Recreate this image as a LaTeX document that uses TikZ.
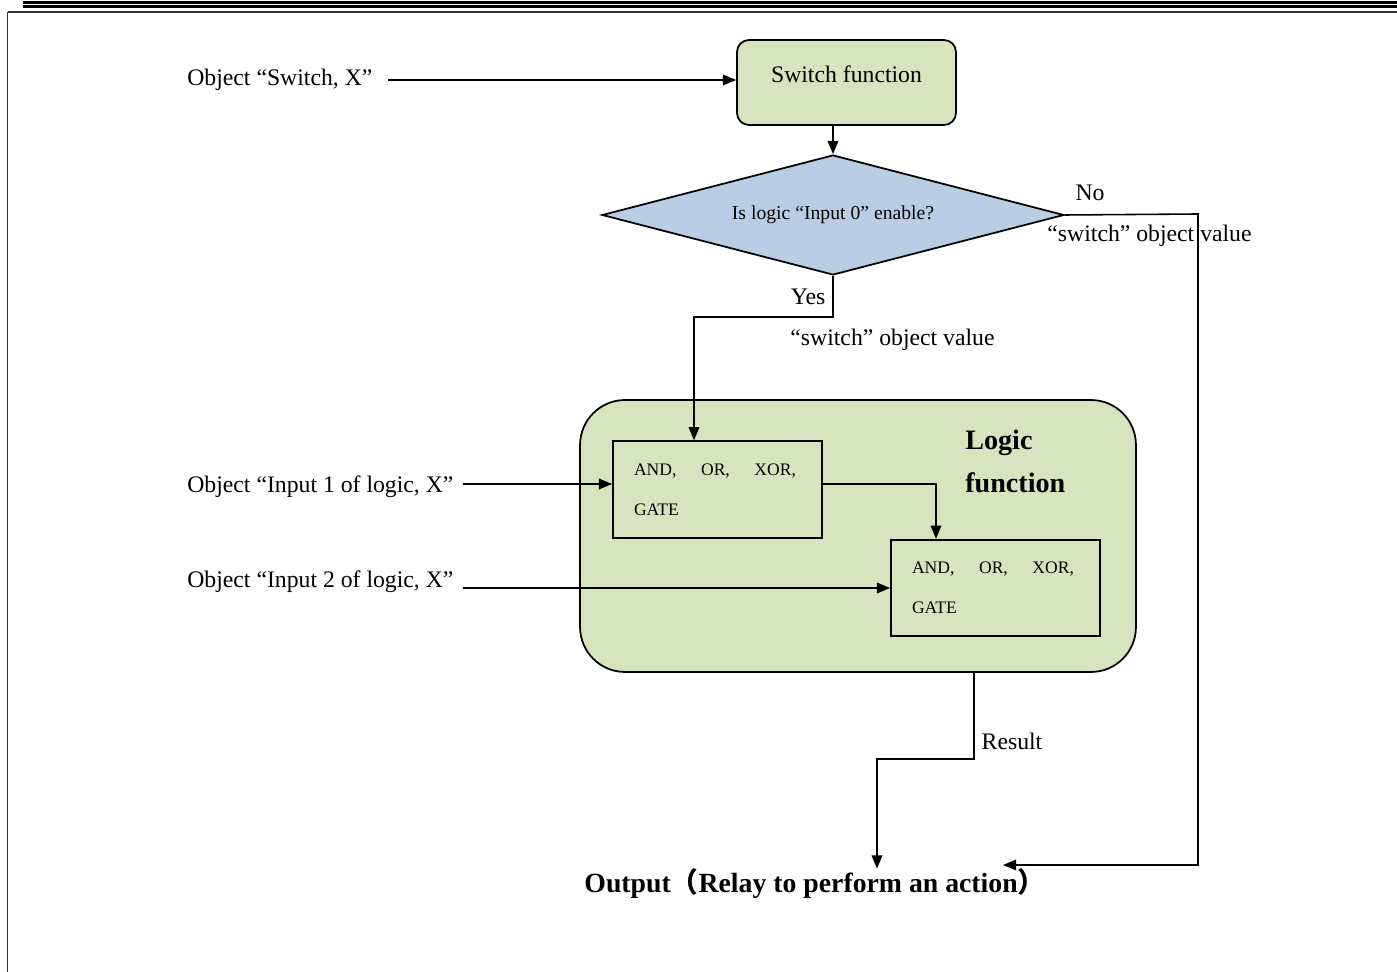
\documentclass[tikz,border=0pt]{standalone}
\usepackage{fontspec}
\setmainfont{Liberation Serif}
\newfontfamily\cjkfont{Noto Sans CJK SC}
\usetikzlibrary{arrows.meta, shapes.geometric}
\definecolor{boxgreen}{HTML}{D7E4BD}
\definecolor{diablue}{HTML}{B9CDE5}

\begin{document}
\begin{tikzpicture}[x=0.02cm, y=-0.02cm,
        txt/.style={font=\fontsize{13.5}{16}\selectfont, inner sep=0pt},
        flow/.style={-{Triangle[length=7.5pt, width=6pt]}, line width=0.9pt},
        gatebox/.style={draw, line width=1pt, minimum width=4.18cm, minimum height=1.93cm,
            text width=3.34cm, inner xsep=0.42cm, inner ysep=0pt, align=left,
            font=\fontsize{10}{22.7}\selectfont}]
        \useasboundingbox (0,0) rectangle (1397,972);
        \draw[line width=0.06cm] (23,2.3) -- (1397,2.3);
        \draw[line width=0.06cm] (23,6.8) -- (1397,6.8);
        \draw[line width=0.03cm, black!80] (7.5,12.2) -- (1397,12.2);
        \draw[line width=0.03cm, black!80] (7.5,12.2) -- (7.5,972);

        \node[draw, line width=1pt, fill=boxgreen, rounded corners=0.24cm,
            minimum width=4.38cm, minimum height=1.7cm, text height=9pt, text depth=9pt,
            font=\fontsize{13.5}{16}\selectfont] (switch) at (846.5,82.5) {Switch function};
        \node[txt, anchor=west] (swin) at (187,80) {Object “Switch, X”};
        \draw[flow] ([xshift=0.3cm]swin.east) -- (swin.east -| switch.west);

        \node[diamond, shape aspect=3.85, draw, line width=1pt, fill=diablue, inner sep=0pt,
            minimum width=9.24cm, minimum height=2.4cm,
            font=\fontsize{11.2}{13}\selectfont] (dia) at (833,215) {Is logic “Input 0” enable?};
        \draw[flow] (dia.north |- switch.south) -- (dia.north);

        \node[draw, line width=1pt, fill=boxgreen, rounded corners=0.9cm,
            minimum width=11.12cm, minimum height=5.44cm] (logic) at (858,536) {};
        \node[anchor=north west, align=left, inner sep=0pt,
            font=\bfseries\fontsize{16}{24.4}\selectfont] (logiclbl) at (965,430) {Logic\\function};
        \node[gatebox] (gate1) at (717.5,489.5) {AND,\hspace{14pt}OR,\hspace{14pt}XOR,\\GATE};
        \node[gatebox] (gate2) at (995.5,588) {AND,\hspace{14pt}OR,\hspace{14pt}XOR,\\GATE};

        \coordinate (yesbend) at (694,317);
        \draw[flow] (dia.south) |- (yesbend) -- (yesbend |- gate1.north);
        \node[txt] (yes) at (808,297) {Yes};
        \node[txt] (yesval) at (892.5,340) {“switch” object value};

        \node[txt, anchor=west] (in1) at (187,487) {Object “Input 1 of logic, X”};
        \node[txt, anchor=west] (in2) at (187,582) {Object “Input 2 of logic, X”};
        \draw[flow] ([xshift=0.18cm]in1.east |- 0,484) -- (gate1.west |- 0,484);
        \draw[flow] ([xshift=0.18cm]in2.east |- gate2.west) -- (gate2.west);

        \coordinate (mid) at (936,484);
        \draw[flow] (mid -| gate1.east) -| (mid |- gate2.north);

        \node[font=\bfseries\fontsize{15.8}{18}\selectfont, inner sep=0pt] (output) at (815,884)
            {Output{\cjkfont （}Relay to perform an action{\cjkfont ）}};

        \coordinate (noturn) at (1198,214);
        \coordinate (noend) at (1003,865);
        \draw[flow] (dia.east) -- (noturn) |- (noend);
        \node[txt] (no) at (1090,193) {No};
        \node[txt] (noval) at (1149.5,236) {“switch” object value};

        \coordinate (resturn) at (974,759);
        \coordinate (resdown) at (877,759);
        \draw[flow] (logic.south -| resturn) -- (resturn) -- (resdown) -- (resdown |- output.north);
        \node[txt] (result) at (1012,741) {Result};
    \end{tikzpicture}
\end{document}
